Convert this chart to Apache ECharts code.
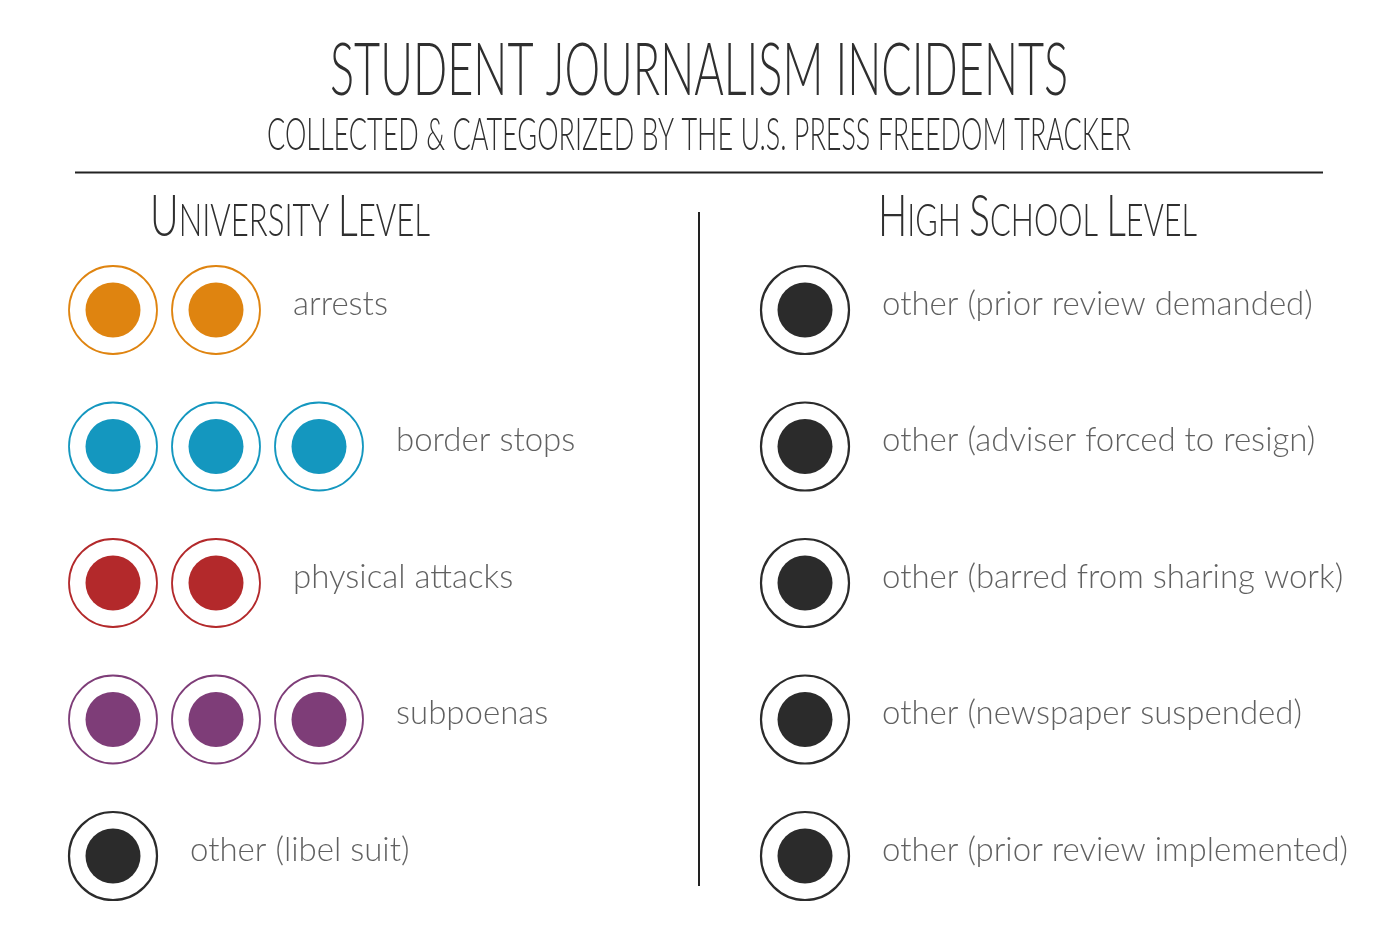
<!DOCTYPE html>
<html><head><meta charset="utf-8">
<script src="https://cdn.jsdelivr.net/npm/echarts@6/dist/echarts.min.js"></script>
<style>html,body{margin:0;padding:0;background:#fff}#c{width:1398px;height:931px}</style>
</head><body><div id="c"></div>
<script>
// ---- data ----
const titleText = 'STUDENT JOURNALISM INCIDENTS';
const subtitleText = 'COLLECTED & CATEGORIZED BY THE U.S. PRESS FREEDOM TRACKER';
const universityHeading = [['U', true], ['NIVERSITY ', false], ['L', true], ['EVEL', false]];
const highSchoolHeading = [['H', true], ['IGH ', false], ['S', true], ['CHOOL ', false], ['L', true], ['EVEL', false]];
const universityCategories = ['arrests', 'border stops', 'physical attacks', 'subpoenas', 'other (libel suit)'];
const universityCounts = [2, 3, 2, 3, 1];
const universityColors = ['#DF8410', '#1497BF', '#B3292B', '#7E3D78', '#2B2B2B'];
const highSchoolCategories = ['other (prior review demanded)', 'other (adviser forced to resign)', 'other (barred from sharing work)', 'other (newspaper suspended)', 'other (prior review implemented)'];
const highSchoolCounts = [1, 1, 1, 1, 1];
const highSchoolColors = ['#2B2B2B', '#2B2B2B', '#2B2B2B', '#2B2B2B', '#2B2B2B'];

// ---- helpers ----
const FONT = 'Lato';
const cv = document.createElement('canvas').getContext('2d');
function measure(text, size, weight) {
  cv.font = (weight || 300) + ' ' + size + 'px ' + FONT;
  cv.textBaseline = 'middle';
  const m = cv.measureText(text);
  return { w: m.width, base: m.actualBoundingBoxDescent };
}
function scaledText(text, size, cx, baseline, targetW, color) {
  const m = measure(text, size);
  const mH = measure('H', size);
  return {
    type: 'text', x: cx, y: baseline - mH.base, scaleX: targetW / m.w, silent: true,
    style: { text: text, fontFamily: FONT, fontWeight: 300, fontSize: size, fill: color, textAlign: 'center', textVerticalAlign: 'middle' }
  };
}
function smallCaps(parts, big, small, cx, baseline, targetW, color) {
  let x = 0; const kids = [];
  parts.forEach(function (p) {
    const size = p[1] ? big : small;
    const m = measure(p[0], size);
    const mH = measure('H', size);
    kids.push({ type: 'text', x: x, y: -mH.base, silent: true,
      style: { text: p[0], fontFamily: FONT, fontWeight: 300, fontSize: size, fill: color, textAlign: 'left', textVerticalAlign: 'middle' } });
    x += m.w;
  });
  const s = targetW / x;
  return { type: 'group', x: cx - targetW / 2, y: baseline, scaleX: s, children: kids, silent: true };
}

function buildSeries(gridIndex, cats, counts, colors, ringWidth) {
  const rings = [], dots = [], labels = [];
  cats.forEach(function (c, i) {
    for (let k = 0; k < counts[i]; k++) {
      rings.push({ value: [k, i], itemStyle: { color: '#fff', opacity: 1, borderColor: colors[i], borderWidth: ringWidth[i] } });
      dots.push({ value: [k, i], itemStyle: { color: colors[i], opacity: 1 } });
    }
    labels.push({ value: [counts[i] - 1, i], name: c });
  });
  const common = { type: 'scatter', xAxisIndex: gridIndex, yAxisIndex: gridIndex, silent: true, animation: false };
  return [
    Object.assign({}, common, { symbol: 'circle', symbolSize: 88, data: rings, z: 2 }),
    Object.assign({}, common, { symbol: 'circle', symbolSize: 55, data: dots, z: 3 }),
    Object.assign({}, common, { symbol: 'circle', symbolSize: 2, itemStyle: { color: 'rgba(0,0,0,0)' }, data: labels, z: 1,
      label: { show: true, position: 'right', distance: 76, offset: [0, -6], formatter: function (p) { return p.name; },
        fontFamily: FONT, fontWeight: 300, fontSize: 33, color: '#383838' } })
  ];
}

const chart = echarts.init(document.getElementById('c'), null, { renderer: 'canvas' });
const uniRing = universityColors.map(function (c) { return c === '#2B2B2B' ? 2.2 : 1.8; });
const hsRing = highSchoolColors.map(function () { return 2.2; });
const option = {
  backgroundColor: '#fff',
  animation: false,
  grid: [
    { left: 113, width: 206, top: 310, height: 546, outerBoundsMode: 'none', containLabel: false },
    { left: 805, width: 103, top: 310, height: 546, outerBoundsMode: 'none', containLabel: false }
  ],
  xAxis: [
    { type: 'value', gridIndex: 0, min: 0, max: 2, show: false },
    { type: 'value', gridIndex: 1, min: 0, max: 1, show: false }
  ],
  yAxis: [
    { type: 'value', gridIndex: 0, min: 0, max: 4, inverse: true, show: false },
    { type: 'value', gridIndex: 1, min: 0, max: 4, inverse: true, show: false }
  ],
  series: buildSeries(0, universityCategories, universityCounts, universityColors, uniRing)
    .concat(buildSeries(1, highSchoolCategories, highSchoolCounts, highSchoolColors, hsRing)),
  graphic: [
    scaledText(titleText, 72, 699, 95, 738, '#2f2f2f'),
    scaledText(subtitleText, 46, 699, 150, 864, '#2f2f2f'),
    { type: 'line', silent: true, shape: { x1: 75, y1: 172.5, x2: 1323, y2: 172.5 }, style: { stroke: '#222', lineWidth: 2 } },
    { type: 'line', silent: true, shape: { x1: 699, y1: 212, x2: 699, y2: 886 }, style: { stroke: '#222', lineWidth: 2 } },
    smallCaps(universityHeading, 57, 45, 290, 236, 280, '#2f2f2f'),
    smallCaps(highSchoolHeading, 57, 45, 1037.5, 236, 319, '#2f2f2f')
  ]
};
chart.setOption(option);
</script>
</body></html>
